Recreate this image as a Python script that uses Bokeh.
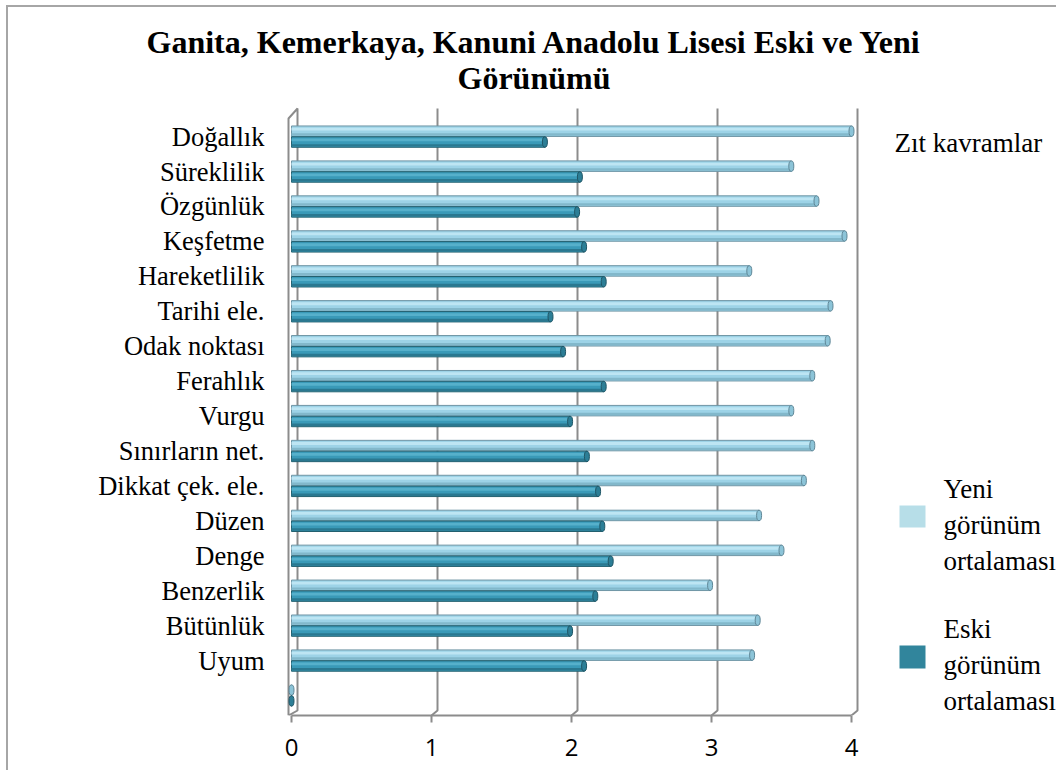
from bokeh.plotting import figure
from bokeh.models import Range1d, FixedTicker, Label, BoxAnnotation, ColumnDataSource, Title
from bokeh.embed import file_html
from bokeh.resources import INLINE

# ---------------- data ----------------
categories = ["Doğallık", "Süreklilik", "Özgünlük", "Keşfetme", "Hareketlilik",
              "Tarihi ele.", "Odak noktası", "Ferahlık", "Vurgu", "Sınırların net.",
              "Dikkat çek. ele.", "Düzen", "Denge", "Benzerlik", "Bütünlük", "Uyum", ""]
yeni = [4.00, 3.57, 3.75, 3.95, 3.27, 3.85, 3.83, 3.72, 3.57, 3.72,
        3.66, 3.34, 3.50, 2.99, 3.33, 3.29, 0.0]
eski = [1.81, 2.06, 2.04, 2.09, 2.23, 1.85, 1.94, 2.23, 1.99, 2.11,
        2.19, 2.22, 2.28, 2.17, 1.99, 2.09, 0.0]
x_ticks = [0, 1, 2, 3, 4]
title_lines = ["Ganita, Kemerkaya, Kanuni Anadolu Lisesi Eski ve Yeni", "Görünümü"]
legend_extra = "Zıt kavramlar"
legend_yeni = ["Yeni", "görünüm", "ortalaması"]
legend_eski = ["Eski", "görünüm", "ortalaması"]

# ---------------- geometry (page pixels) ----------------
W, H = 1050, 765
OX, OY = 8, 7          # canvas origin on the page (margin + border)
X0_IMG, PX_PER_UNIT = 291, 140.0
ROW0_IMG, PX_PER_ROW = 695, 34.93
FRAME_L, FRAME_R, FRAME_T, FRAME_B = 286, OX + W, 105, 715


def xd(px):
    return (px - X0_IMG) / PX_PER_UNIT


def yd(py):
    return (ROW0_IMG - py) / PX_PER_ROW


n = len(categories)
ypos = [n - 1 - i for i in range(n)]

p = figure(width=W, height=H, output_backend="svg", toolbar_location=None,
           x_range=Range1d(xd(FRAME_L), xd(FRAME_R)),
           y_range=Range1d(yd(FRAME_B), yd(FRAME_T)),
           min_border_left=FRAME_L - OX, min_border_right=0,
           min_border_top=FRAME_T - OY, min_border_bottom=H - (FRAME_B - OY),
           styles={"margin-left": "6px", "margin-top": "5px",
                   "border-left": "2px solid #a6a6a6", "border-top": "2px solid #a6a6a6"})
p.outline_line_color = None
p.grid.visible = False
p.background_fill_color = "white"
p.border_fill_color = "white"

# x axis (front floor edge)
xa = p.xaxis[0]
xa.ticker = FixedTicker(ticks=x_ticks)
xa.bounds = (0, 4)
xa.axis_line_color = "#8c8c8c"
xa.axis_line_width = 2
xa.major_tick_line_color = "#8c8c8c"
xa.major_tick_line_width = 2
xa.major_tick_out = 7
xa.major_tick_in = 0
xa.minor_tick_line_color = None
xa.major_label_text_font = "Open Sans"
xa.major_label_text_font_size = "24px"
xa.major_label_text_color = "black"
xa.major_label_standoff = 16

# y axis (categories)
ya = p.yaxis[0]
ya.ticker = FixedTicker(ticks=ypos)
ya.major_label_overrides = {y: c for y, c in zip(ypos, categories)}
ya.axis_line_color = None
ya.major_tick_line_color = None
ya.minor_tick_line_color = None
ya.major_label_text_font = "Liberation Serif"
ya.major_label_text_font_size = "26.5px"
ya.major_label_text_color = "black"
ya.major_label_standoff = 16

# 3D walls / gridlines derived from the ticks
dxb = xd(297) - xd(291)
y_top_back, y_bot_back, y_floor = yd(108), yd(710), yd(715)
xs, ys = [], []
for v in x_ticks[1:]:
    xs.append([v + dxb, v + dxb, v])
    ys.append([y_top_back, y_bot_back, y_floor])
xf = xd(288)
xs.append([xf, xf, dxb, dxb, xf])
ys.append([y_floor, yd(118), y_top_back, y_bot_back, y_floor])
p.multi_line(xs=xs, ys=ys, line_color="#8c8c8c", line_width=2)

# bars
bh = 0.3
off = 0.155
src = ColumnDataSource(dict(
    yy=[y + off for y in ypos], ye=[y - off for y in ypos],
    yeni=yeni, eski=eski,
    yy_hi=[y + off + 0.06 for y in ypos], yy_lo=[y + off - 0.095 for y in ypos],
    ye_hi=[y - off + 0.06 for y in ypos], ye_lo=[y - off - 0.095 for y in ypos],
))
cap_w = 5 / PX_PER_UNIT

# Yeni (light)
p.hbar(y="yy", left=0, right="yeni", height=bh, source=src,
       fill_color="#9dd3e7", line_color="#6f95a5", line_width=1)
p.hbar(y="yy_hi", left=0, right="yeni", height=0.08, source=src,
       fill_color="#bde5f3", line_color=None)
p.hbar(y="yy_lo", left=0, right="yeni", height=0.07, source=src,
       fill_color="#82b8cb", line_color=None)
p.ellipse(x="yeni", y="yy", width=cap_w, height=bh, source=src,
          fill_color="#8cc4d8", line_color="#5f8797", line_width=1)

# Eski (dark)
p.hbar(y="ye", left=0, right="eski", height=bh, source=src,
       fill_color="#3a9ab8", line_color="#23606f", line_width=1)
p.hbar(y="ye_hi", left=0, right="eski", height=0.08, source=src,
       fill_color="#56b0cb", line_color=None)
p.hbar(y="ye_lo", left=0, right="eski", height=0.07, source=src,
       fill_color="#2a7890", line_color=None)
p.ellipse(x="eski", y="ye", width=cap_w, height=bh, source=src,
          fill_color="#2c7e96", line_color="#1f5666", line_width=1)

# title (two lines, stacked above the frame; nearest first), left-aligned by offset
for txt, sto, left_px in ((title_lines[1], 20, 457), (title_lines[0], -24, 146)):
    p.add_layout(Title(text=txt, align="left", offset=left_px - FRAME_L,
                       text_font="Liberation Serif", text_font_style="bold",
                       text_font_size="32px", text_color="black", standoff=sto), "above")

# legend (inside the extended frame area)
p.add_layout(Label(x=xd(894), y=yd(142), text=legend_extra, text_align="left",
                   text_baseline="middle", text_font="Liberation Serif",
                   text_font_size="27px", text_color="black"))
for lines, y0 in ((legend_yeni, 488), (legend_eski, 628)):
    for k, t in enumerate(lines):
        p.add_layout(Label(x=xd(943), y=yd(y0 + 36 * k), text=t, text_align="left",
                           text_baseline="middle", text_font="Liberation Serif",
                           text_font_size="27px", text_color="black"))
p.add_layout(BoxAnnotation(left=xd(899), right=xd(925), top=yd(505), bottom=yd(527),
                           fill_color="#b7dee8", fill_alpha=1.0, line_color=None))
p.add_layout(BoxAnnotation(left=xd(899), right=xd(925), top=yd(645), bottom=yd(668),
                           fill_color="#31859c", fill_alpha=1.0, line_color=None))

open("out.html", "w").write(file_html(p, INLINE))
